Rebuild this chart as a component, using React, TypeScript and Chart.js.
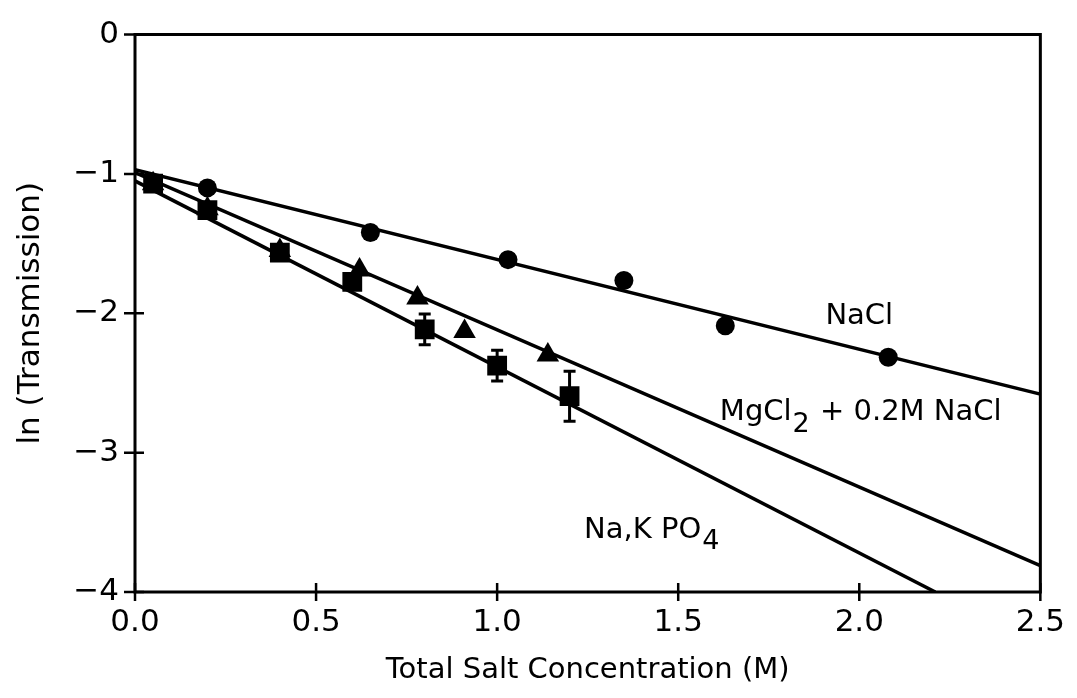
import React, { useEffect, useRef } from "react";
import { Chart, registerables } from "chart.js";

Chart.register(...registerables);

// Tick values / labels
const xTicks = [0, 0.5, 1.0, 1.5, 2.0, 2.5];
const yTicks = [0, -1, -2, -3, -4];

// NaCl (circles)
const naclX = [0.2, 0.65, 1.03, 1.35, 1.63, 2.08];
const naclY = [-1.1, -1.42, -1.615, -1.765, -2.09, -2.315];

// MgCl2 + 0.2M NaCl (triangles)
const mgX = [0.05, 0.2, 0.4, 0.62, 0.78, 0.91, 1.14];
const mgY = [-1.07, -1.25, -1.55, -1.69, -1.89, -2.13, -2.3];

// Na,K PO4 (squares) with error bars
const po4X = [0.05, 0.2, 0.4, 0.6, 0.8, 1.0, 1.2];
const po4Y = [-1.07, -1.26, -1.565, -1.775, -2.115, -2.375, -2.595];
const po4Err = [0, 0, 0, 0, 0.11, 0.11, 0.18];

// Fitted lines (endpoints)
const naclFitX = [0, 2.5];
const naclFitY = [-0.97, -2.58];
const mgFitX = [0, 2.5];
const mgFitY = [-0.99, -3.81];
const po4FitX = [0, 2.21];
const po4FitY = [-1.05, -4.0];

const FONT = "DejaVu Sans";

const pts = (xs: number[], ys: number[]) => xs.map((x, i) => ({ x, y: ys[i] }));

const framePlugin = {
  id: "frame",
  afterDatasetsDraw(chart: any) {
    const { ctx, chartArea: a, scales } = chart;
    const xs = scales.x;
    const ys = scales.y;
    ctx.save();
    ctx.strokeStyle = "#000";
    ctx.fillStyle = "#000";
    ctx.lineCap = "butt";
    // error bars
    ctx.lineWidth = 3;
    po4X.forEach((x, i) => {
      const e = po4Err[i];
      if (!e) return;
      const px = xs.getPixelForValue(x);
      const top = ys.getPixelForValue(po4Y[i] + e);
      const bot = ys.getPixelForValue(po4Y[i] - e);
      ctx.beginPath();
      ctx.moveTo(px, top);
      ctx.lineTo(px, bot);
      ctx.moveTo(px - 6, top);
      ctx.lineTo(px + 6, top);
      ctx.moveTo(px - 6, bot);
      ctx.lineTo(px + 6, bot);
      ctx.stroke();
    });
    // frame
    ctx.lineWidth = 3;
    ctx.beginPath();
    ctx.rect(a.left, a.top, a.right - a.left, a.bottom - a.top);
    ctx.stroke();
    // ticks
    ctx.lineWidth = 2.5;
    ctx.beginPath();
    yTicks.forEach((v) => {
      const py = ys.getPixelForValue(v);
      ctx.moveTo(a.left - 11, py);
      ctx.lineTo(v === 0 ? a.left : a.left + 9, py);
    });
    xTicks.forEach((v) => {
      const px = xs.getPixelForValue(v);
      ctx.moveTo(px, a.bottom + 9);
      ctx.lineTo(px, a.bottom - 9);
    });
    ctx.stroke();

    // annotations
    ctx.textBaseline = "middle";
    ctx.textAlign = "left";
    const sub = (main: string, s: string, rest: string, x: number, y: number, align: string) => {
      let px = xs.getPixelForValue(x);
      const py = ys.getPixelForValue(y);
      ctx.font = `29px "${FONT}"`;
      const w1 = ctx.measureText(main).width;
      ctx.font = `27px "${FONT}"`;
      const w2 = ctx.measureText(s).width;
      ctx.font = `29px "${FONT}"`;
      const w3 = ctx.measureText(rest).width;
      if (align === "center") px -= (w1 + w2 + w3) / 2;
      ctx.fillText(main, px, py);
      ctx.font = `27px "${FONT}"`;
      ctx.fillText(s, px + w1 + 1, py + 12);
      ctx.font = `29px "${FONT}"`;
      ctx.fillText(rest, px + w1 + w2 + 2, py);
    };
    sub("NaCl", "", "", 2.0, -2.025, "center");
    sub("MgCl", "2", " + 0.2M NaCl", 1.615, -2.715, "left");
    sub("Na,K PO", "4", "", 1.24, -3.555, "left");
    ctx.restore();
  },
};

export default function App() {
  const ref = useRef<HTMLCanvasElement>(null);
  useEffect(() => {
    if (!ref.current) return;
    Chart.defaults.font.family = FONT;
    Chart.defaults.color = "#000";
    const chart = new Chart(ref.current, {
      type: "scatter",
      data: {
        datasets: [
          {
            label: "NaCl fit",
            data: pts(naclFitX, naclFitY),
            showLine: true,
            pointRadius: 0,
            borderColor: "#000",
            borderWidth: 3.5,
            order: 5,
          },
          {
            label: "MgCl2 fit",
            data: pts(mgFitX, mgFitY),
            showLine: true,
            pointRadius: 0,
            borderColor: "#000",
            borderWidth: 3.5,
            order: 5,
          },
          {
            label: "PO4 fit",
            data: pts(po4FitX, po4FitY),
            showLine: true,
            pointRadius: 0,
            borderColor: "#000",
            borderWidth: 3.5,
            order: 5,
          },
          {
            label: "NaCl",
            data: pts(naclX, naclY),
            pointStyle: "circle",
            pointRadius: 9.5,
            backgroundColor: "#000",
            borderColor: "#000",
            borderWidth: 0,
            order: 1,
          },
          {
            label: "MgCl2",
            data: pts(mgX, mgY),
            pointStyle: "triangle",
            pointRadius: 13,
            backgroundColor: "#000",
            borderColor: "#000",
            borderWidth: 0,
            order: 2,
          },
          {
            label: "PO4",
            data: pts(po4X, po4Y),
            pointStyle: "rect",
            pointRadius: 14,
            backgroundColor: "#000",
            borderColor: "#000",
            borderWidth: 0,
            order: 0,
          },
        ],
      },
      options: {
        responsive: false,
        animation: false,
        events: [],
        layout: { padding: { top: 25, right: 32, left: 0, bottom: 0 } },
        plugins: { legend: { display: false }, tooltip: { enabled: false } },
        scales: {
          x: {
            type: "linear",
            min: 0,
            max: 2.5,
            afterFit: (s: any) => {
              s.height = 106;
            },
            afterBuildTicks: (s: any) => {
              s.ticks = xTicks.map((v) => ({ value: v }));
            },
            grid: { display: false, drawTicks: false },
            border: { display: false },
            ticks: {
              padding: 12,
              font: { size: 31 },
              color: "#000",
              callback: (v: any) => Number(v).toFixed(1),
            },
            title: {
              display: true,
              text: "Total Salt Concentration (M)",
              font: { size: 29 },
              color: "#000",
              padding: { top: 0, bottom: 10 },
            },
          },
          y: {
            type: "linear",
            min: -4,
            max: 0,
            afterFit: (s: any) => {
              s.width = 135;
            },
            afterBuildTicks: (s: any) => {
              s.ticks = yTicks.map((v) => ({ value: v }));
            },
            grid: { display: false, drawTicks: false },
            border: { display: false },
            ticks: {
              padding: 16,
              font: { size: 31 },
              color: "#000",
              callback: (v: any) => (Number(v) < 0 ? "\u2212" + Math.abs(Number(v)) : String(v)),
            },
            title: {
              display: true,
              text: "ln (Transmission)",
              font: { size: 31 },
              color: "#000",
              padding: { top: 12, bottom: 0 },
            },
          },
        },
      },
      plugins: [framePlugin],
    });
    return () => chart.destroy();
  }, []);
  return (
    <div style={{ position: "absolute", left: 0, top: 0, width: 1077, height: 698, background: "#fff" }}>
      <canvas ref={ref} width={1077} height={698} style={{ width: 1077, height: 698 }} />
    </div>
  );
}
